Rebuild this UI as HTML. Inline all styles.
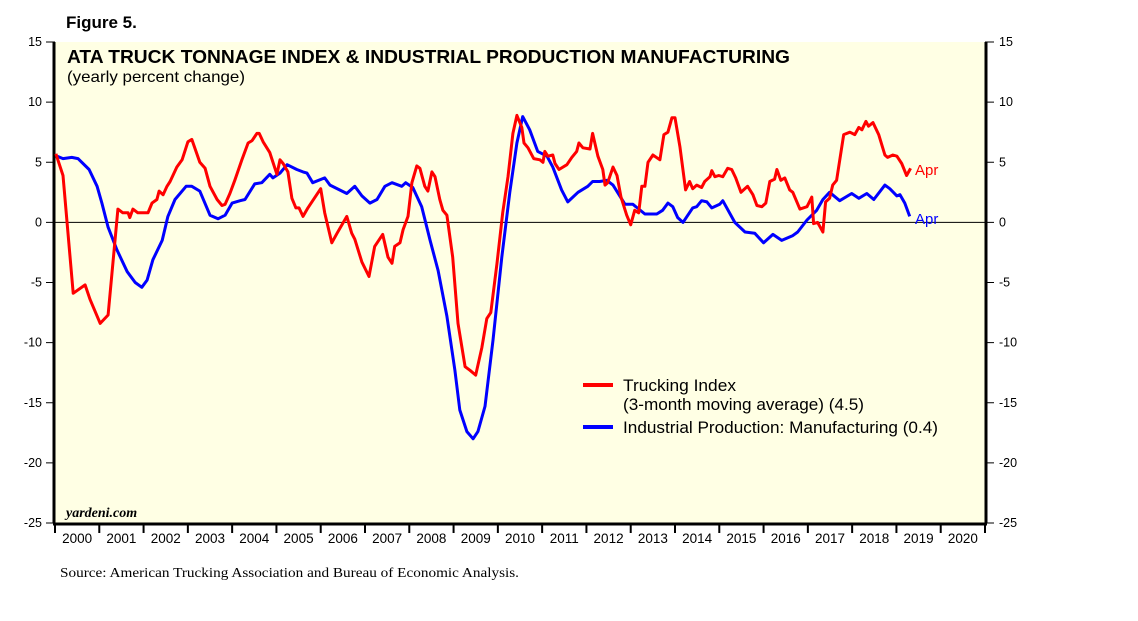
<!DOCTYPE html>
<html><head><meta charset="utf-8"><style>
body{margin:0;background:#fff;}
svg{display:block;font-family:"Liberation Sans",sans-serif;}
</style></head><body>
<svg width="1138" height="621" viewBox="0 0 1138 621">
<rect x="0" y="0" width="1138" height="621" fill="#fff"/>
<text x="66" y="28" font-size="17" font-weight="bold">Figure 5.</text>
<rect x="55" y="42" width="930" height="481" fill="#ffffe4"/>
<g id="axes"></g>
<g id="series"></g>
<text x="67" y="63" font-size="18" font-weight="bold" textLength="723" lengthAdjust="spacingAndGlyphs">ATA TRUCK TONNAGE INDEX &amp; INDUSTRIAL PRODUCTION MANUFACTURING</text>
<text x="67" y="82" font-size="16" textLength="178" lengthAdjust="spacingAndGlyphs">(yearly percent change)</text>
<text x="66" y="517" font-size="14" font-weight="bold" font-style="italic" font-family="Liberation Serif,serif">yardeni.com</text>
<g>
<line x1="583" y1="385" x2="613" y2="385" stroke="#ff0000" stroke-width="4"/>
<text x="623" y="391" font-size="17" textLength="113" lengthAdjust="spacingAndGlyphs">Trucking Index</text>
<text x="623" y="410" font-size="17" textLength="241" lengthAdjust="spacingAndGlyphs">(3-month moving average) (4.5)</text>
<line x1="583" y1="427" x2="613" y2="427" stroke="#0000ff" stroke-width="4"/>
<text x="623" y="433" font-size="17" textLength="315" lengthAdjust="spacingAndGlyphs">Industrial Production: Manufacturing (0.4)</text>
</g>
<text x="915" y="175" font-size="15" fill="#ff0000">Apr</text>
<text x="915" y="224" font-size="15" fill="#0000ff">Apr</text>
<text x="60" y="577" font-size="14" font-family="Liberation Serif,serif" textLength="459" lengthAdjust="spacingAndGlyphs">Source: American Trucking Association and Bureau of Economic Analysis.</text>
</svg>
<script>
const yTicks=[15,10,5,0,-5,-10,-15,-20,-25];
const years=[2000,2001,2002,2003,2004,2005,2006,2007,2008,2009,2010,2011,2012,2013,2014,2015,2016,2017,2018,2019,2020];
const truckT=[0.02,0.18,0.41,0.68,0.79,1.02,1.20,1.42,1.53,1.65,1.69,1.76,1.87,2.10,2.19,2.30,2.35,2.44,2.53,2.60,2.75,2.87,3.00,3.09,3.27,3.39,3.50,3.66,3.77,3.84,3.95,4.06,4.22,4.36,4.45,4.56,4.61,4.70,4.85,5.01,5.08,5.15,5.26,5.35,5.44,5.51,5.60,5.71,5.82,6.00,6.09,6.25,6.37,6.59,6.70,6.77,6.93,7.09,7.22,7.40,7.52,7.61,7.67,7.79,7.86,7.97,8.06,8.17,8.24,8.35,8.42,8.51,8.58,8.69,8.76,8.85,8.98,9.10,9.26,9.37,9.50,9.64,9.75,9.84,9.98,10.11,10.23,10.34,10.43,10.54,10.59,10.68,10.81,10.95,11.02,11.06,11.13,11.24,11.29,11.38,11.56,11.67,11.78,11.83,11.92,12.08,12.14,12.26,12.37,12.42,12.48,12.60,12.69,12.78,12.91,13.00,13.09,13.18,13.25,13.32,13.39,13.50,13.66,13.75,13.84,13.93,14.00,14.11,14.24,14.33,14.40,14.49,14.60,14.67,14.79,14.83,14.90,14.99,15.08,15.19,15.28,15.37,15.49,15.55,15.64,15.76,15.85,15.96,16.05,16.14,16.25,16.30,16.39,16.48,16.59,16.66,16.82,16.98,17.09,17.13,17.22,17.34,17.40,17.49,17.56,17.65,17.81,17.95,18.06,18.15,18.22,18.31,18.37,18.47,18.60,18.74,18.80,18.92,19.01,19.12,19.23,19.32];
const truckV=[5.7,3.9,-5.9,-5.2,-6.4,-8.4,-7.7,1.1,0.8,0.8,0.4,1.1,0.8,0.8,1.6,1.9,2.6,2.3,3.0,3.4,4.6,5.2,6.7,6.9,5.0,4.5,3.0,1.9,1.4,1.5,2.4,3.5,5.2,6.6,6.8,7.4,7.4,6.7,5.8,4.0,5.2,4.9,4.2,2.0,1.2,1.2,0.5,1.2,1.8,2.8,0.8,-1.7,-0.9,0.5,-0.9,-1.4,-3.3,-4.5,-2.0,-1.0,-2.9,-3.4,-2.0,-1.7,-0.6,0.5,3.3,4.7,4.5,3.0,2.6,4.2,3.8,1.9,1.0,0.6,-2.9,-8.4,-12.0,-12.3,-12.7,-10.4,-8.0,-7.5,-3.4,0.8,3.8,7.4,8.9,7.9,6.6,6.2,5.3,5.2,5.0,5.9,5.5,5.6,4.9,4.4,4.8,5.4,5.9,6.6,6.2,6.1,7.4,5.5,4.4,3.1,3.3,4.6,3.9,2.1,0.6,-0.2,1.0,0.8,3.0,3.0,5.0,5.6,5.2,7.3,7.5,8.7,8.7,6.3,2.7,3.4,2.8,3.1,2.9,3.4,3.8,4.3,3.8,3.9,3.8,4.5,4.4,3.7,2.5,2.7,3.0,2.3,1.4,1.3,1.6,3.4,3.6,4.4,3.5,3.7,2.7,2.5,1.1,1.3,2.1,-0.1,0.0,-0.8,1.7,2.0,3.1,3.5,7.3,7.5,7.3,7.9,7.7,8.4,8.0,8.3,7.3,5.6,5.4,5.6,5.5,4.9,3.9,4.5];
const ipT=[0.05,0.18,0.38,0.52,0.77,0.95,1.06,1.20,1.40,1.63,1.81,1.96,2.08,2.21,2.42,2.55,2.71,2.96,3.09,3.27,3.50,3.68,3.84,4.00,4.18,4.29,4.51,4.67,4.85,4.92,5.08,5.24,5.46,5.60,5.69,5.82,6.09,6.21,6.59,6.77,6.93,7.11,7.27,7.45,7.61,7.83,7.92,8.08,8.28,8.47,8.65,8.85,9.03,9.14,9.30,9.44,9.55,9.71,9.89,10.09,10.27,10.43,10.56,10.72,10.90,11.11,11.24,11.44,11.58,11.81,12.03,12.14,12.30,12.46,12.60,12.87,13.05,13.32,13.59,13.72,13.84,13.95,14.06,14.18,14.27,14.40,14.49,14.60,14.72,14.83,15.01,15.08,15.35,15.58,15.80,16.00,16.21,16.41,16.66,16.77,16.98,17.20,17.34,17.49,17.72,17.99,18.15,18.33,18.49,18.74,18.85,19.01,19.08,19.19,19.30];
const ipV=[5.5,5.3,5.4,5.3,4.4,3.0,1.6,-0.4,-2.3,-4.1,-5.0,-5.4,-4.8,-3.1,-1.5,0.5,1.9,3.0,3.0,2.6,0.6,0.3,0.6,1.6,1.8,1.9,3.2,3.3,4.0,3.7,4.1,4.8,4.4,4.2,4.1,3.3,3.7,3.1,2.4,3.0,2.2,1.6,1.9,3.0,3.3,3.0,3.3,2.9,1.3,-1.5,-4.0,-7.8,-12.3,-15.6,-17.4,-18.0,-17.4,-15.3,-9.8,-2.9,2.5,6.6,8.8,7.7,5.9,5.5,4.6,2.7,1.7,2.5,3.0,3.4,3.4,3.5,3.1,1.5,1.5,0.7,0.7,1.0,1.6,1.3,0.4,0.0,0.5,1.2,1.3,1.8,1.7,1.2,1.5,1.8,0.0,-0.8,-0.9,-1.7,-1.0,-1.5,-1.1,-0.8,0.2,1.0,1.9,2.5,1.8,2.4,2.0,2.4,1.9,3.1,2.8,2.2,2.3,1.6,0.5];
const L=55,R=985,T=42,B=523,yMin=-25,yMax=15,t0=2000,t1=2021;
const xs=t=>L+(t-(t0-2000))/(t1-t0)*(R-L);
const ys=v=>B-(v-yMin)/(yMax-yMin)*(B-T);
const NS="http://www.w3.org/2000/svg";
const ax=document.getElementById('axes'),se=document.getElementById('series');
function mk(tag,at,parent){const e=document.createElementNS(NS,tag);for(const k in at)e.setAttribute(k,at[k]);parent.appendChild(e);return e;}
let z=mk('line',{x1:L,x2:R,y1:ys(0),y2:ys(0),stroke:'#000','stroke-width':1},ax);


yTicks.forEach(v=>{
 const y=ys(v);
 let a=mk('line',{x1:L-9,x2:L,y1:y,y2:y,stroke:'#000','stroke-width':1},ax);
 
 
 let b=mk('line',{x1:R,x2:R+9,y1:y,y2:y,stroke:'#000','stroke-width':1},ax);
 
 
 let t=mk('text',{x:L-13,y:y+4,'font-size':12.5,'text-anchor':'end'},ax);t.textContent=v;
 
 
 let t2=mk('text',{x:R+14,y:y+4,'font-size':12.5},ax);t2.textContent=v;
 
 
});
let lb=mk('line',{x1:L-1,x2:L-1,y1:T,y2:B,stroke:'#000','stroke-width':3},ax);


let rb=mk('line',{x1:R+1,x2:R+1,y1:T,y2:B,stroke:'#000','stroke-width':3},ax);


let bb=mk('line',{x1:L-2,x2:R+2,y1:B+1,y2:B+1,stroke:'#000','stroke-width':3},ax);


years.forEach(yr=>{
 const x0=xs(yr-2000);
 let tk=mk('line',{x1:x0,x2:x0,y1:B,y2:B+10,stroke:'#000','stroke-width':2},ax);
 
 
 let t=mk('text',{x:xs(yr-2000+0.5),y:B+20,'font-size':13.5,'text-anchor':'middle'},ax);t.textContent=yr;
 
 
});
let last=mk('line',{x1:R,x2:R,y1:B,y2:B+10,stroke:'#000','stroke-width':2},ax);


function line(ts,vs,col,name){
 const d=ts.map((t,i)=>(i?'L':'M')+xs(t).toFixed(1)+','+ys(vs[i]).toFixed(1)).join('');
 const p=mk('path',{d:d,fill:'none',stroke:col,'stroke-width':3,'stroke-linejoin':'round'},se);
 
 
}
line(ipT,ipV,'#0000ff','ip-manufacturing-line');
line(truckT,truckV,'#ff0000','trucking-index-line');
</script>
</body></html>
